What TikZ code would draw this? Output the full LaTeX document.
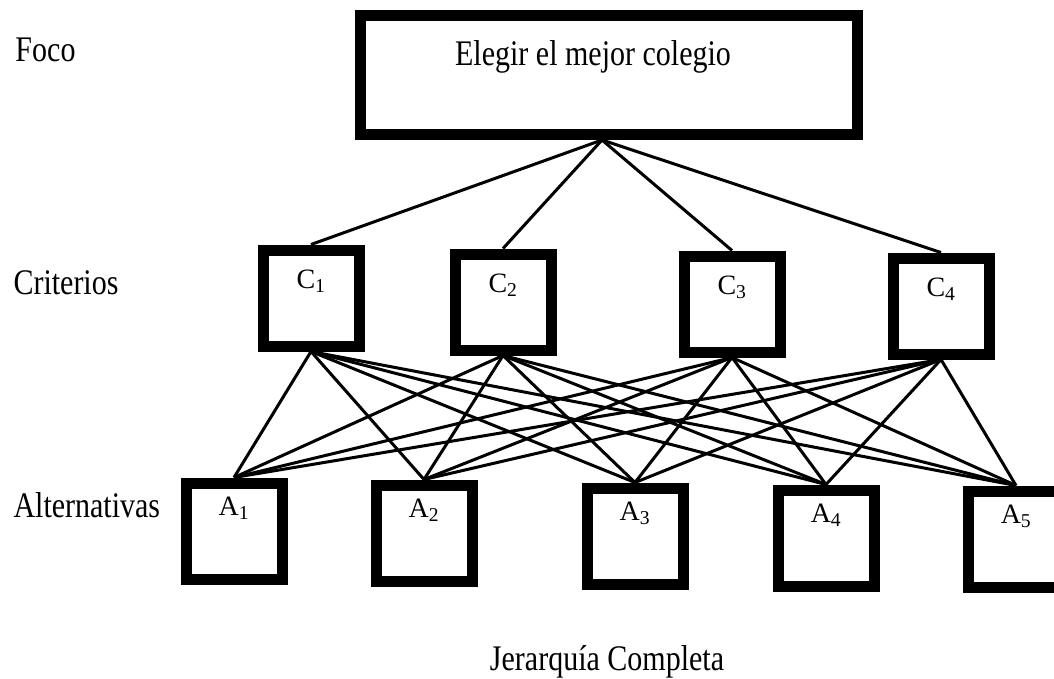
\documentclass[tikz,border=0pt]{standalone}
\usepackage{fontspec}
\setmainfont{Liberation Serif}
\usepackage{graphicx}
\newcommand{\estirar}[1]{\scalebox{1}[1.2]{#1}}
\begin{document}
\begin{tikzpicture}[x=1pt,y=1pt,line width=3pt,
	caja/.style={rectangle,draw,line width=11pt,minimum width=96pt,minimum height=96pt,inner sep=0pt},
	nivel/.style={anchor=west,inner sep=0pt,font=\fontsize{30}{36}\selectfont},
	every label/.style={inner sep=0pt,font=\fontsize{28}{34}\selectfont}]
	\useasboundingbox (0,0) rectangle (1054,-679);
	\node (foco) [rectangle,draw,line width=11pt,minimum width=497pt,minimum height=119pt] at (609,-75) {};
	\node (meta) [inner sep=0pt,font=\fontsize{30}{36}\selectfont] at (593,-57) {\estirar{Elegir el mejor colegio}};
	\coordinate (f) at ([xshift=-7pt]foco.south);
	\node (c1) [caja,label={[anchor=center,yshift=-37pt]north:C\textsubscript{1}}] at (311,-298) {};
	\node (c2) [caja,label={[anchor=center,yshift=-37pt]north:C\textsubscript{2}}] at (503,-302) {};
	\node (c3) [caja,label={[anchor=center,yshift=-37pt]north:C\textsubscript{3}}] at (732,-304) {};
	\node (c4) [caja,label={[anchor=center,yshift=-37pt]north:C\textsubscript{4}}] at (941,-306) {};
	\node (a1) [caja,label={[anchor=center,yshift=-31pt]north:A\textsubscript{1}}] at (234,-531) {};
	\node (a2) [caja,label={[anchor=center,yshift=-31pt]north:A\textsubscript{2}}] at (424,-533) {};
	\node (a3) [caja,label={[anchor=center,yshift=-31pt]north:A\textsubscript{3}}] at (635,-536) {};
	\node (a4) [caja,label={[anchor=center,yshift=-31pt]north:A\textsubscript{4}}] at (826,-538) {};
	\node (a5) [caja,label={[anchor=center,yshift=-31pt]north:A\textsubscript{5}}] at (1016,-539) {};
	\node (n1) [nivel] at (14,-50) {\estirar{Foco}};
	\node (n2) [nivel] at (12,-283) {\estirar{Criterios}};
	\node (n3) [nivel] at (12,-505) {\estirar{Alternativas}};
	\node (titulo) [inner sep=0pt,font=\fontsize{30}{36}\selectfont] at (607,-662) {\estirar{Jerarquía Completa}};
	\draw (f) -- (c1.north);
	\draw (f) -- (c2.north);
	\draw (f) -- (c3.north);
	\draw (f) -- (c4.north);
	\draw (c1.south) -- (a1.north);
	\draw (c1.south) -- (a2.north);
	\draw (c1.south) -- (a3.north);
	\draw (c1.south) -- (a4.north);
	\draw (c1.south) -- (a5.north);
	\draw (c2.south) -- (a1.north);
	\draw (c2.south) -- (a2.north);
	\draw (c2.south) -- (a3.north);
	\draw (c2.south) -- (a4.north);
	\draw (c2.south) -- (a5.north);
	\draw (c3.south) -- (a1.north);
	\draw (c3.south) -- (a2.north);
	\draw (c3.south) -- (a3.north);
	\draw (c3.south) -- (a4.north);
	\draw (c3.south) -- (a5.north);
	\draw (c4.south) -- (a1.north);
	\draw (c4.south) -- (a2.north);
	\draw (c4.south) -- (a3.north);
	\draw (c4.south) -- (a4.north);
	\draw (c4.south) -- (a5.north);
\end{tikzpicture}
\end{document}
